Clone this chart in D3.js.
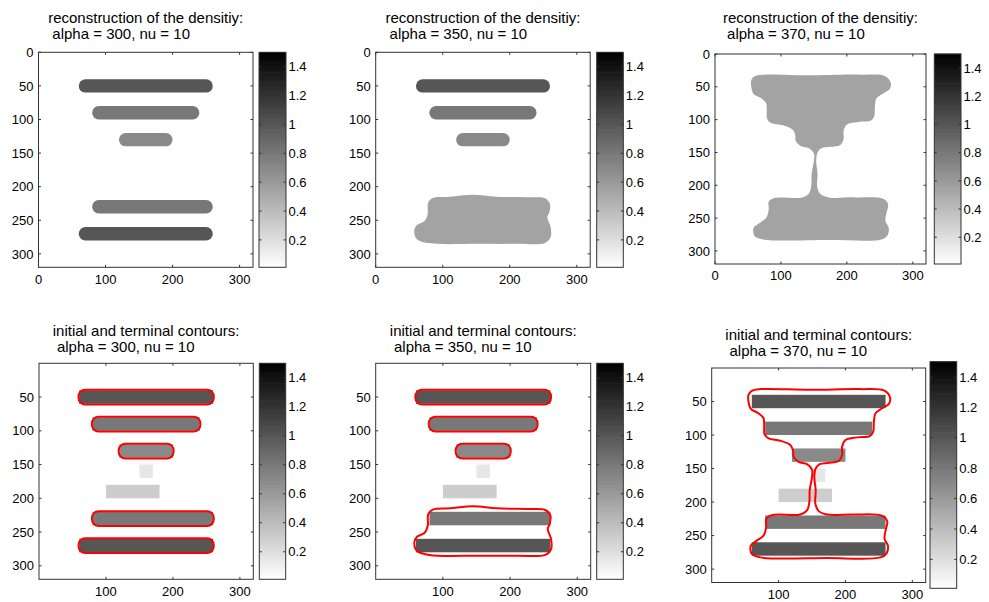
<!DOCTYPE html>
<html>
<head>
<meta charset="utf-8">
<script src="https://cdn.jsdelivr.net/npm/d3@7"></script>
<style>
  body { margin: 0; background: #fff; }
  svg { display: block; font-family: "Liberation Sans", Arial, sans-serif; }
</style>
</head>
<body>
<svg id="fig" width="989" height="602"></svg>
<script>
/* original piecewise constant image: 7 bars (image coords, 320 x 320) */
var barX0 = [60, 80, 120, 150, 100, 80, 60];
var barX1 = [260, 240, 200, 170, 180, 260, 260];
var barY0 = [40, 80, 120, 150, 180, 220, 260];
var barY1 = [60, 100, 140, 170, 200, 240, 280];
var barValue = [1.0, 0.8, 0.7, 0.15, 0.3, 0.8, 1.0];

/* segmentation results */
var alphas = [300, 350, 370];
var nu = 10;
var stadiumBars300 = [0, 1, 2, 5, 6];   // bars kept as rounded regions
var stadiumBars350 = [0, 1, 2];
var cornerRadius = 10;

// merged lower region for alpha = 350 (outline)
var blob350X = [78.5, 85, 110, 145, 180, 230, 252.5, 260, 259, 256, 261, 261, 252.5, 210, 155, 80, 61, 57.5, 61.5, 72.5, 77.5, 77.5];
var blob350Y = [223, 216.8, 214.9, 211.9, 214.9, 215.8, 217.3, 225.7, 238, 245.5, 260.4, 275.2, 283.7, 285, 285, 284, 277.7, 265.3, 257, 251.5, 240.6, 228.2];
var blob350Value = 0.55;

// hourglass region for alpha = 370
var hourX = [60, 72.5, 147.5, 222.5, 257.5, 266.5, 265, 255, 245, 242.5, 241.5, 236.5, 217.5, 200, 195, 195, 190, 175, 161.5, 155.5, 153.5, 155.5, 155, 160, 172.5, 212.5, 255, 262.5, 260, 258.5, 263.5, 261.5, 252.5, 172.5, 72.5, 60, 58.5, 67.5, 77.5, 81.5, 81.5, 90, 132.5, 142.5, 146, 146.5, 150, 150, 142.5, 130, 122.5, 121.5, 117.5, 102.5, 85, 79, 78.5, 77.5, 70, 58.5, 55, 55];
var hourY = [34, 31.5, 32.5, 31.5, 33.5, 43.5, 53.5, 60, 67.5, 80, 95, 101.5, 103.5, 107.5, 117.5, 130, 138.5, 141.5, 143.5, 150, 162.5, 182.5, 202.5, 213.5, 218.5, 218.5, 220.5, 228.5, 242.5, 255, 265, 276.5, 282.5, 283.5, 282.5, 277.5, 265, 257.5, 250, 236.5, 225, 219.5, 218.5, 212.5, 200, 182.5, 162.5, 151.5, 143.5, 140, 132.5, 122.5, 115, 108.5, 105, 98.5, 85, 75, 67.5, 61, 50, 40];
var hourValue = 0.55;

/* axes */
var imgSize = 320;
var xTicksTop = [0, 100, 200, 300];
var yTicksTop = [0, 50, 100, 150, 200, 250, 300];
var xTicksBottom = [100, 200, 300];
var yTicksBottom = [50, 100, 150, 200, 250, 300];
var cbarDomain = [0.01, 1.5];
var cbarTicks = [0.2, 0.4, 0.6, 0.8, 1, 1.2, 1.4];

var panels = [
  {kind: "recon", a: 0, box: [38.5, 52.3, 214.5, 215], cbar: [259, 52.3, 27, 215], ty: 23.2},
  {kind: "recon", a: 1, box: [375.7, 52.3, 214.5, 215], cbar: [596.7, 52.3, 26.6, 215], ty: 23.2},
  {kind: "recon", a: 2, box: [715, 54, 211, 210], cbar: [934.3, 54, 26.7, 210], ty: 23.2},
  {kind: "contour", a: 0, box: [39, 363.3, 214.3, 216], cbar: [259.3, 363.3, 26.4, 216], ty: 336},
  {kind: "contour", a: 1, box: [375.7, 363.3, 215, 216], cbar: [596.7, 363.3, 26.6, 216], ty: 336},
  {kind: "contour", a: 2, box: [711.7, 368, 214, 214.5], cbar: [930, 361.7, 26.7, 226.6], ty: 340}
];

var grayScale = d3.scaleLinear().domain(cbarDomain).range([255, 0]).clamp(true);
function cmap(v) { var g = Math.round(grayScale(v)); return "rgb(" + g + "," + g + "," + g + ")"; }

var svg = d3.select("#fig");
var tickLen = 2.5;
var axisColor = "#333";
var tickFont = "13px";
var titleFont = "15px";

panels.forEach(function(p, pi) {
  var bx = p.box[0], by = p.box[1], bw = p.box[2], bh = p.box[3];
  var x = d3.scaleLinear().domain([0, imgSize]).range([bx, bx + bw]);
  var y = d3.scaleLinear().domain([0, imgSize]).range([by, by + bh]);
  var alpha = alphas[p.a];
  var g = svg.append("g");

  g.append("clipPath").attr("id", "clip" + pi)
    .append("rect").attr("x", bx).attr("y", by).attr("width", bw).attr("height", bh);
  var img = g.append("g").attr("clip-path", "url(#clip" + pi + ")");
  img.append("rect").attr("x", bx).attr("y", by).attr("width", bw).attr("height", bh).attr("fill", "#fff");

  var stadiums = p.a == 0 ? stadiumBars300 : (p.a == 1 ? stadiumBars350 : []);
  var line = d3.line().x(function(d) { return x(d[0]); }).y(function(d) { return y(d[1]); })
    .curve(d3.curveCatmullRomClosed.alpha(0.5));
  var regions = [];
  if (p.a == 1) regions.push({xs: blob350X, ys: blob350Y, v: blob350Value});
  if (p.a == 2) regions.push({xs: hourX, ys: hourY, v: hourValue});

  if (p.kind == "recon") {
    stadiums.forEach(function(i) {
      img.append("rect")
        .attr("x", x(barX0[i])).attr("y", y(barY0[i]))
        .attr("width", x(barX1[i]) - x(barX0[i])).attr("height", y(barY1[i]) - y(barY0[i]))
        .attr("rx", x(cornerRadius) - x(0)).attr("ry", y(cornerRadius) - y(0))
        .attr("fill", cmap(barValue[i]));
    });
    regions.forEach(function(r) {
      img.append("path").datum(d3.zip(r.xs, r.ys))
        .attr("d", line).attr("fill", cmap(r.v));
    });
  } else {
    barValue.forEach(function(v, i) {
      img.append("rect")
        .attr("x", x(barX0[i])).attr("y", y(barY0[i]))
        .attr("width", x(barX1[i]) - x(barX0[i])).attr("height", y(barY1[i]) - y(barY0[i]))
        .attr("fill", cmap(v));
    });
    stadiums.forEach(function(i) {
      img.append("rect")
        .attr("x", x(barX0[i] - 1)).attr("y", y(barY0[i] - 1))
        .attr("width", x(barX1[i] + 1) - x(barX0[i] - 1)).attr("height", y(barY1[i] + 1) - y(barY0[i] - 1))
        .attr("rx", x(cornerRadius) - x(0)).attr("ry", y(cornerRadius) - y(0))
        .attr("fill", "none").attr("stroke", "#f00").attr("stroke-width", 2);
    });
    regions.forEach(function(r) {
      img.append("path").datum(d3.zip(r.xs, r.ys))
        .attr("d", line).attr("fill", "none").attr("stroke", "#f00").attr("stroke-width", 2);
    });
  }

  // axes box + inward ticks on all sides
  var xt = p.kind == "recon" ? xTicksTop : xTicksBottom;
  var yt = p.kind == "recon" ? yTicksTop : yTicksBottom;
  g.append("rect").attr("x", bx).attr("y", by).attr("width", bw).attr("height", bh)
    .attr("fill", "none").attr("stroke", axisColor).attr("stroke-width", 1);
  xt.forEach(function(t) {
    g.append("line").attr("x1", x(t)).attr("x2", x(t)).attr("y1", by + bh).attr("y2", by + bh - tickLen).attr("stroke", axisColor);
    g.append("line").attr("x1", x(t)).attr("x2", x(t)).attr("y1", by).attr("y2", by + tickLen).attr("stroke", axisColor);
    g.append("text").attr("x", x(t)).attr("y", by + bh + 16.3)
      .attr("text-anchor", "middle").style("font-size", tickFont).text(t);
  });
  yt.forEach(function(t) {
    g.append("line").attr("x1", bx).attr("x2", bx + tickLen).attr("y1", y(t)).attr("y2", y(t)).attr("stroke", axisColor);
    g.append("line").attr("x1", bx + bw).attr("x2", bx + bw - tickLen).attr("y1", y(t)).attr("y2", y(t)).attr("stroke", axisColor);
    g.append("text").attr("x", bx - 5).attr("y", y(t)).attr("dy", "0.36em")
      .attr("text-anchor", "end").style("font-size", tickFont).text(t);
  });

  // colorbar
  var cx = p.cbar[0], cy = p.cbar[1], cw = p.cbar[2], ch = p.cbar[3];
  var c = d3.scaleLinear().domain(cbarDomain).range([cy + ch, cy]);
  var steps = d3.range(64).map(function(k) { return cbarDomain[0] + (k + 0.5) * (cbarDomain[1] - cbarDomain[0]) / 64; });
  var stepH = ch / 64;
  g.selectAll(null).data(steps).enter().append("rect")
    .attr("x", cx).attr("width", cw)
    .attr("y", function(d) { return c(d) - stepH / 2 - 0.3; })
    .attr("height", stepH + 0.6)
    .attr("fill", function(d) { return cmap(d); });
  g.append("rect").attr("x", cx).attr("y", cy).attr("width", cw).attr("height", ch)
    .attr("fill", "none").attr("stroke", axisColor).attr("stroke-width", 1);
  cbarTicks.forEach(function(t) {
    g.append("line").attr("x1", cx).attr("x2", cx + tickLen).attr("y1", c(t)).attr("y2", c(t)).attr("stroke", axisColor);
    g.append("line").attr("x1", cx + cw).attr("x2", cx + cw - tickLen).attr("y1", c(t)).attr("y2", c(t)).attr("stroke", axisColor);
    g.append("text").attr("x", cx + cw + 2.5).attr("y", c(t)).attr("dy", "0.36em")
      .style("font-size", tickFont).text(t);
  });

  // two line title, second line left aligned with the first (padded char matrix)
  var line1 = p.kind == "recon" ? "reconstruction of the densitiy:" : "initial and terminal contours:";
  var t1 = g.append("text").attr("x", bx + bw / 2).attr("y", p.ty)
    .attr("text-anchor", "middle").style("font-size", titleFont).text(line1);
  var left = bx + bw / 2 - t1.node().getComputedTextLength() / 2;
  g.append("text").attr("x", left).attr("y", p.ty + 15.6)
    .style("font-size", titleFont).text("\u00a0alpha = " + alpha + ", nu = " + nu);
});
</script>
</body>
</html>
